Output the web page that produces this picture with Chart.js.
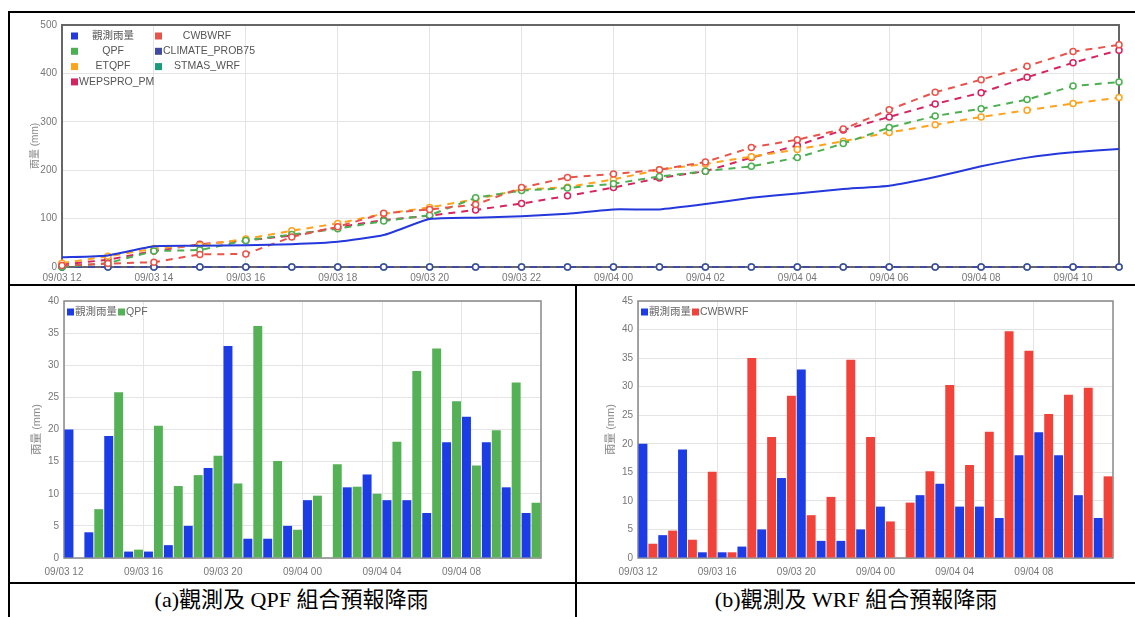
<!DOCTYPE html>
<html>
<head>
<meta charset="utf-8">
<script src="https://cdn.jsdelivr.net/npm/chart.js@4.4.1/dist/chart.umd.min.js"></script>
<style>
  body { margin: 0; background: #fff; }
  #page { position: relative; width: 1135px; height: 617px; overflow: hidden; background: #fff; }
  .cell { position: absolute; }
  .rule { position: absolute; background: #000; }
  .cap { position: absolute; top: 588px; font-family: "Liberation Serif", "Noto Sans CJK TC", serif; font-size: 22px; line-height: 24px; text-align: center; color: #000; }
</style>
</head>
<body>
<div id="page">
  <div class="cell" style="left:10px;top:14px;width:1125px;height:270px"><canvas id="accChart"></canvas></div>
  <div class="cell" style="left:10px;top:287px;width:564px;height:294px"><canvas id="qpfChart"></canvas></div>
  <div class="cell" style="left:578px;top:287px;width:557px;height:294px"><canvas id="wrfChart"></canvas></div>

  <div class="rule" style="left:8px;top:11px;width:1127px;height:2px"></div>
  <div class="rule" style="left:8px;top:11px;width:2px;height:606px"></div>
  <div class="rule" style="left:8px;top:284px;width:1127px;height:2px"></div>
  <div class="rule" style="left:575px;top:284px;width:2px;height:333px"></div>
  <div class="rule" style="left:8px;top:582px;width:1127px;height:2px"></div>

  <div class="cap" style="left:8px;width:567px">(a)觀測及 QPF 組合預報降雨</div>
  <div class="cap" style="left:577px;width:558px">(b)觀測及 WRF 組合預報降雨</div>
</div>

<script>
// hours from 09/03 12 to 09/04 11
const timeLabels = ['09/03 12','09/03 13','09/03 14','09/03 15','09/03 16','09/03 17','09/03 18','09/03 19',
  '09/03 20','09/03 21','09/03 22','09/03 23','09/04 00','09/04 01','09/04 02','09/04 03',
  '09/04 04','09/04 05','09/04 06','09/04 07','09/04 08','09/04 09','09/04 10','09/04 11'];

// accumulated rain (top chart)
const obsAcc     = [20,24,43,44,45,47,52,66,99,102,105,110,119,119,130,143,152,161,168,186,208,226,237,244];
const cwbwrfAcc  = [3,7,10,26,27,62,83,111,119,129,164,185,192,201,217,247,263,285,325,361,387,415,445,459];
const qpfAcc     = [0,8,33,35,55,67,79,95,107,143,158,163,172,187,198,208,226,255,288,312,327,346,374,382];
const climateAcc = [0,0,0,0,0,0,0,0,0,0,0,0,0,0,0,0,0,0,0,0,0,0,0,0];
const etqpfAcc   = [8,22,38,45,58,75,90,110,123,140,160,165,181,201,213,228,243,260,278,294,310,324,338,350];
const stmasAcc   = [0,0,0,0,0,0,0,0,0,0,0,0,0,0,0,0,0,0,0,0,0,0,0,0];
const wepsAcc    = [5,15,33,47,55,65,82,97,106,118,131,147,164,184,198,226,251,283,310,337,360,392,422,448];

// hourly rain (bottom charts)
const obsHourly = [20,4,19,1,1,2,5,14,33,3,3,5,9,0,11,13,9,9,7,18,22,18,11,7];
const qpfHourly = [0,7.6,25.8,1.3,20.6,11.2,12.9,15.9,11.6,36.1,15.1,4.4,9.7,14.6,11.1,10,18.1,29.1,32.6,24.4,14.4,19.9,27.3,8.6];
const wrfHourly = [2.5,4.8,3.2,15.1,1,35,21.2,28.4,7.5,10.7,34.7,21.2,6.4,9.7,15.2,30.3,16.3,22.1,39.7,36.3,25.2,28.6,29.8,14.3];

Chart.defaults.font.family = "'Liberation Sans', 'Noto Sans CJK TC', sans-serif";
Chart.defaults.font.size = 10;
Chart.defaults.color = '#777';
Chart.defaults.animation = false;

const gridColor = '#e4e4e4';

// dark box round the plot area
const frame = {
  id: 'frame',
  beforeDatasetsDraw(chart, args, opts) {
    const a = chart.chartArea, ctx = chart.ctx;
    ctx.save();
    ctx.strokeStyle = opts.color;
    ctx.lineWidth = opts.width;
    ctx.strokeRect(a.left, a.top, a.right - a.left, a.bottom - a.top);
    ctx.restore();
  }
};

// legend drawn inside the plot area
const boxLegend = {
  id: 'boxLegend',
  afterDatasetsDraw(chart, args, opts) {
    const ctx = chart.ctx, a = chart.chartArea;
    const sets = chart.data.datasets;
    ctx.save();
    ctx.font = opts.font;
    ctx.textBaseline = 'middle';
    ctx.textAlign = 'left';
    if (opts.mode === 'grid') {
      sets.forEach((ds, i) => {
        const col = i % 2, row = Math.floor(i / 2);
        const bx = a.left + opts.boxX[col];
        const by = a.top + opts.rowY0 + row * opts.rowH;
        ctx.fillStyle = ds.borderColor;
        ctx.fillRect(bx, by - opts.box / 2, opts.box, opts.box);
        const w = ctx.measureText(ds.label).width;
        const tx = Math.max(a.left + opts.textC[col] - w / 2, bx + opts.box + 1);
        ctx.fillStyle = opts.textColor;
        ctx.fillText(ds.label, tx, by);
      });
    } else {
      let x = a.left + opts.x0;
      const y = a.top + opts.y0;
      sets.forEach(ds => {
        ctx.fillStyle = ds.backgroundColor;
        ctx.fillRect(x, y - opts.box / 2, opts.box, opts.box);
        x += opts.box + 1;
        ctx.fillStyle = opts.textColor;
        ctx.fillText(ds.label, x, y);
        x += ctx.measureText(ds.label).width + 1;
      });
    }
    ctx.restore();
  }
};

const pts = arr => arr.map((v, i) => ({ x: i, y: v }));
const barPts = arr => arr.map((v, i) => ({ x: i + 0.5, y: v }));

function dashed(label, color, data) {
  return {
    label: label,
    data: pts(data),
    borderColor: color,
    backgroundColor: color,
    borderWidth: 2,
    borderDash: [7, 6],
    pointRadius: 3,
    pointBorderWidth: 1.5,
    pointBackgroundColor: '#fff',
    pointBorderColor: color,
    clip: false
  };
}

new Chart(document.getElementById('accChart'), {
  type: 'line',
  data: {
    datasets: [
      { label: '觀測雨量', data: pts(obsAcc), borderColor: '#2438dc', backgroundColor: '#2438dc',
        borderWidth: 2, pointRadius: 0, tension: 0.15 },
      dashed('CWBWRF', '#e8534a', cwbwrfAcc),
      dashed('QPF', '#4caf50', qpfAcc),
      dashed('CLIMATE_PROB75', '#3f4aa0', climateAcc),
      dashed('ETQPF', '#ffa21c', etqpfAcc),
      dashed('STMAS_WRF', '#1a9c7c', stmasAcc),
      dashed('WEPSPRO_PM', '#d6245e', wepsAcc)
    ]
  },
  options: {
    responsive: true,
    maintainAspectRatio: false,
    layout: { padding: { left: 15, right: 16, top: 8, bottom: 0 } },
    plugins: {
      legend: { display: false },
      tooltip: { enabled: false },
      frame: { color: '#666', width: 2 },
      boxLegend: { mode: 'grid', font: "10.5px 'Liberation Sans', 'Noto Sans CJK TC', sans-serif",
        textColor: '#555', box: 7, boxX: [9, 93], textC: [51, 145], rowY0: 11, rowH: 15.3 }
    },
    scales: {
      x: {
        type: 'linear', min: 0, max: 23, offset: false,
        afterBuildTicks: s => { s.ticks = s.ticks.filter(t => t.value % 2 === 0); },
        afterFit: s => { s.height = 17; },
        grid: { color: gridColor, drawTicks: false },
        border: { display: false },
        ticks: { stepSize: 2, padding: 5, maxRotation: 0, autoSkip: false, callback: v => timeLabels[v] }
      },
      y: {
        min: 0, max: 500,
        afterFit: s => { s.width = 37; },
        grid: { color: gridColor, drawTicks: false },
        border: { display: false },
        ticks: { stepSize: 100, padding: 5 },
        title: { display: true, text: '雨量 (mm)', font: { size: 10 }, color: '#888', padding: { top: 4, bottom: 0 } }
      }
    }
  },
  plugins: [frame, boxLegend]
});

function hourlyChart(id, second, secondLabel, secondColor, yMax, padLeft, padRight) {
  return new Chart(document.getElementById(id), {
    type: 'bar',
    data: {
      datasets: [
        { label: '觀測雨量', data: barPts(obsHourly), backgroundColor: '#1c3ce6' },
        { label: secondLabel, data: barPts(second), backgroundColor: secondColor }
      ]
    },
    options: {
      responsive: true,
      maintainAspectRatio: false,
      layout: { padding: { left: padLeft, right: padRight, top: 14, bottom: 0 } },
      datasets: { bar: { categoryPercentage: 1, barPercentage: 0.9 } },
      plugins: {
        legend: { display: false },
        tooltip: { enabled: false },
        frame: { color: '#888', width: 1.5 },
        boxLegend: { mode: 'row', font: "10.5px 'Liberation Sans', 'Noto Sans CJK TC', sans-serif",
          textColor: '#666', box: 7, x0: 3, y0: 11 }
      },
      scales: {
        x: {
          type: 'linear', min: 0, max: 24, offset: false,
          afterBuildTicks: s => { s.ticks = s.ticks.filter(t => t.value < 24); },
          afterFit: s => { s.height = 23; },
          grid: { color: gridColor, drawTicks: false, offset: false },
          border: { display: false },
          ticks: { stepSize: 4, padding: 8, maxRotation: 0, autoSkip: false, callback: v => timeLabels[v] }
        },
        y: {
          min: 0, max: yMax,
          afterFit: s => { s.width = 38; },
          grid: { color: gridColor, drawTicks: false },
          border: { display: false },
          ticks: { stepSize: 5, padding: 5 },
          title: { display: true, text: '雨量 (mm)', font: { size: 11 }, color: '#888', padding: { top: 4, bottom: 0 } }
        }
      }
    },
    plugins: [frame, boxLegend]
  });
}

hourlyChart('qpfChart', qpfHourly, 'QPF', '#55b155', 40, 16, 33);
hourlyChart('wrfChart', wrfHourly, 'CWBWRF', '#f2433a', 45, 22, 22);
</script>
</body>
</html>
